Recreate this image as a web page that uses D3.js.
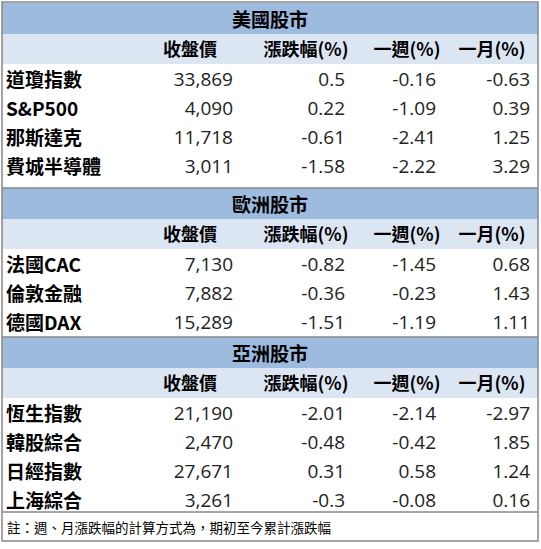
<!DOCTYPE html><html><head><meta charset="utf-8"><script src="https://cdn.jsdelivr.net/npm/d3@7"></script>
<style>body{margin:0;background:#fff}</style></head><body><svg id="c" width="541" height="549"></svg>
<script>
const sections=["美國股市","歐洲股市","亞洲股市"];
const columns=["收盤價","漲跌幅(%)","一週(%)","一月(%)"];
const names=[["道瓊指數","S&P500","那斯達克","費城半導體"],["法國CAC","倫敦金融","德國DAX"],["恆生指數","韓股綜合","日經指數","上海綜合"]];
const close=[["33,869","4,090","11,718","3,011"],["7,130","7,882","15,289"],["21,190","2,470","27,671","3,261"]];
const chg=[["0.5","0.22","-0.61","-1.58"],["-0.82","-0.36","-1.51"],["-2.01","-0.48","0.31","-0.3"]];
const wk=[["-0.16","-1.09","-2.41","-2.22"],["-1.45","-0.23","-1.19"],["-2.14","-0.42","0.58","-0.08"]];
const mo=[["-0.63","0.39","1.25","3.29"],["0.68","1.43","1.11"],["-2.97","1.85","1.24","0.16"]];
const note="註：週、月漲跌幅的計算方式為，期初至今累計漲跌幅";
const svg=d3.select("#c");
const F="'Noto Sans CJK TC','Noto Sans',sans-serif";
const L=2,R=538;
const secTop=[3,188,337];
const x=d3.scaleOrdinal().domain([0,1,2,3]).range([233,345,436,530]);
const hx=d3.scaleOrdinal().domain([0,1,2,3]).range([190,306,407,492]);
sections.forEach((s,i)=>{
  const t=secTop[i];
  svg.append("rect").attr("x",L).attr("y",t).attr("width",R-L).attr("height",31).attr("fill","#9dbbdf");
  svg.append("text").attr("x",270).attr("y",t+15).attr("text-anchor","middle").attr("dominant-baseline","central").attr("font-family",F).attr("font-weight","bold").attr("font-size",19).text(s);
  svg.append("rect").attr("x",L).attr("y",t+31).attr("width",R-L).attr("height",30).attr("fill","#dce6f2");
  columns.forEach((c,j)=>svg.append("text").attr("x",hx(j)).attr("y",t+45).attr("text-anchor","middle").attr("dominant-baseline","central").attr("font-family",F).attr("font-weight","bold").attr("font-size",18).text(c));
  const y=d3.scaleBand().domain(d3.range(names[i].length)).range([t+61,t+61+names[i].length*29]);
  names[i].forEach((n,k)=>{
    const cy=y(k)+y.bandwidth()/2;
    svg.append("text").attr("x",6).attr("y",cy).attr("dominant-baseline","central").attr("font-family",F).attr("font-weight","bold").attr("font-size",19).text(n);
    [close[i][k],chg[i][k],wk[i][k],mo[i][k]].forEach((v,j)=>svg.append("text").attr("x",x(j)).attr("y",cy).attr("text-anchor","end").attr("dominant-baseline","central").attr("font-family","'Open Sans',sans-serif").attr("font-size",19).attr("fill","#222").text(v));
  });
  if(i>0) svg.append("line").attr("x1",L).attr("x2",R).attr("y1",t).attr("y2",t).attr("stroke","#888").attr("stroke-width",1.5);
});
svg.append("line").attr("x1",L).attr("x2",R).attr("y1",512).attr("y2",512).attr("stroke","#888").attr("stroke-width",1.5);
svg.append("text").attr("x",7).attr("y",527).attr("dominant-baseline","central").attr("font-family",F).attr("font-size",13.5).text(note);
svg.append("rect").attr("x",L).attr("y",2).attr("width",R-L).attr("height",539).attr("fill","none").attr("stroke","#888").attr("stroke-width",1.5);
</script></body></html>
